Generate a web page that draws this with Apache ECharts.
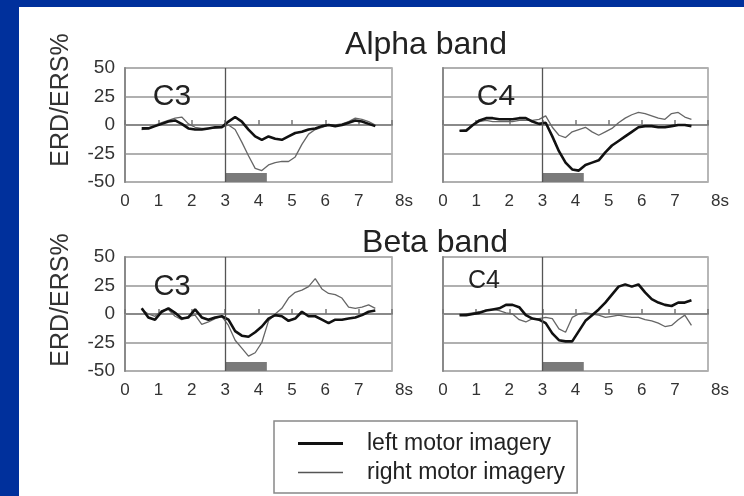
<!DOCTYPE html>
<html>
<head>
<meta charset="utf-8">
<script src="https://cdn.jsdelivr.net/npm/echarts@6/dist/echarts.min.js"></script>
<style>
html,body{margin:0;padding:0;background:#00309c;}
#chart{width:744px;height:496px;}
</style>
</head>
<body>
<div id="chart"></div>
<script>
// ---- data ----
const times = [0.5,0.7,0.9,1.1,1.3,1.5,1.7,1.9,2.1,2.3,2.5,2.7,2.9,3.1,3.3,3.5,3.7,3.9,4.1,4.3,4.5,4.7,4.9,5.1,5.3,5.5,5.7,5.9,6.1,6.3,6.5,6.7,6.9,7.1,7.3,7.5];

const alphaC3Left  = [-3,-3,-1,1,3,4,1,-3,-4,-4,-3,-2,-2,3,7,3,-4,-10,-13,-10,-12,-13,-10,-7,-6,-4,-3,-1,0,-1,0,2,4,3,1,-1];
const alphaC3Right = [-4,-3,0,2,4,6,7,1,-2,-3,-3,-3,-2,0,-4,-15,-27,-38,-40,-35,-33,-32,-32,-28,-17,-8,-4,-2,0,0,1,3,6,5,3,0];
const alphaC4Left  = [-5,-5,0,4,6,6,5,5,5,6,6,3,1,2,-10,-23,-33,-39,-40,-35,-33,-31,-24,-18,-14,-10,-6,-2,-1,-1,-2,-2,-1,0,0,-1];
const alphaC4Right = [-5,-4,0,3,4,3,3,3,3,4,4,4,5,8,-2,-9,-11,-6,-4,-2,-6,-9,-6,-3,2,6,9,11,10,8,6,5,10,11,7,5];
const betaC3Left   = [5,-3,-5,2,5,1,-4,-3,4,-3,-5,-3,-2,-5,-15,-19,-20,-16,-11,-4,-1,-2,-6,-4,2,-2,-2,-5,-8,-5,-5,-4,-3,-1,2,3];
const betaC3Right  = [4,0,-2,3,4,-2,-5,-2,-1,-9,-7,-4,-2,-10,-23,-30,-37,-34,-25,-6,0,5,14,19,21,24,31,22,18,17,14,6,5,6,8,5];
const betaC4Left   = [-1,-1,0,1,3,4,5,8,8,6,-1,-4,-5,-8,-17,-23,-24,-24,-15,-6,-1,4,10,17,24,26,24,26,19,13,10,8,7,10,10,12];
const betaC4Right  = [-1,0,1,2,3,4,3,1,0,-5,-7,-4,-4,-3,-4,-13,-16,-3,0,1,0,-1,-3,-2,-1,-2,-3,-3,-5,-6,-8,-11,-10,-5,-1,-10];

const xTicks = ['0','1','2','3','4','5','6','7','8s'];
const yTicks = ['-50','-25','0','25','50'];
const seriesNames = ['left motor imagery','right motor imagery'];
const panelNames = ['C3','C4','C3','C4'];
const bandNames = ['Alpha band','Beta band'];
const yTitle = 'ERD/ERS%';
const cueOnset = 3;
const cueInterval = [3, 4.25];
const cueTop = -42;

// ---- layout ----
const FONT = '"Liberation Sans", Arial, sans-serif';
const grids = [
  {left:125, top:68, width:267, height:114},
  {left:443, top:68, width:265, height:114},
  {left:125, top:257, width:267, height:114},
  {left:443, top:257, width:265, height:114}
];
const panels = [
  [alphaC3Left, alphaC3Right],
  [alphaC4Left, alphaC4Right],
  [betaC3Left, betaC3Right],
  [betaC4Left, betaC4Right]
];

function pairs(ys){ return times.map((t,i)=>[t, ys[i]]); }

const xAxes = grids.map((g,i)=>({
  gridIndex:i, type:'value', min:0, max:8, interval:1,
  axisLine:{show:true, lineStyle:{color:'#8a8a8a', width:2}},
  axisTick:{show:true, inside:true, length:5, lineStyle:{color:'#777', width:1.5}},
  splitLine:{show:false},
  axisLabel:{
    show:true, margin:11, color:'#333', fontSize:17, fontFamily:FONT,
    formatter:(v)=>{ const s = xTicks[Math.round(v)]; return v===8 ? '{e|'+s+'}' : s; },
    rich:{e:{fontSize:17, fontFamily:FONT, color:'#333', padding:[0,0,0,24]}}
  }
}));
const yAxes = grids.map((g,i)=>({
  gridIndex:i, type:'value', min:-50, max:50, interval:25,
  axisLine:{show:true, lineStyle:{color:'#8a8a8a', width:2}},
  axisTick:{show:false},
  splitLine:{show:true, lineStyle:{color:'#b0b0b0', width:2}},
  axisLabel:{
    show: i%2===0, margin:10, color:'#333', fontSize:19, fontFamily:FONT,
    formatter:(v)=> yTicks[Math.round((v+50)/25)]
  }
}));

const series = [];
panels.forEach((p,i)=>{
  series.push({
    type:'line', name:seriesNames[1], xAxisIndex:i, yAxisIndex:i,
    data:pairs(p[1]), symbol:'none', z:3,
    lineStyle:{color:'#666', width:1.3}, itemStyle:{color:'#666'},
    markLine:{silent:true, symbol:'none', label:{show:false},
      lineStyle:{color:'#555', width:1.3, type:'solid'},
      data:[{xAxis:cueOnset}]},
    markArea:{silent:true, itemStyle:{color:'#7a7a7a'},
      data:[[{xAxis:cueInterval[0], yAxis:-50},{xAxis:cueInterval[1], yAxis:cueTop}]]}
  });
  series.push({
    type:'line', name:seriesNames[0], xAxisIndex:i, yAxisIndex:i,
    data:pairs(p[0]), symbol:'none', z:4,
    lineStyle:{color:'#111', width:2.6}, itemStyle:{color:'#111'}
  });
});

const texts = [
  {x:426, y:45, text:bandNames[0], size:32},
  {x:435, y:243, text:bandNames[1], size:32},
  {x:172, y:97, text:panelNames[0], size:30},
  {x:496, y:97, text:panelNames[1], size:30},
  {x:172, y:287, text:panelNames[2], size:29},
  {x:484, y:281, text:panelNames[3], size:25}
];

const graphic = [
  {type:'rect', left:19, top:7, z:-100, shape:{width:725, height:489}, style:{fill:'#fff'}}
].concat(texts.map(t=>({
  type:'text', x:t.x, y:t.y, z:10,
  style:{text:t.text, fill:'#222', font:t.size+'px '+FONT, textAlign:'center', textVerticalAlign:'middle'}
}))).concat([100, 300].map(cy=>({
  type:'text', x:61, y:cy, rotation:Math.PI/2, z:10,
  style:{text:yTitle, fill:'#333', font:'25px '+FONT, textAlign:'center', textVerticalAlign:'middle'}
})));

const chart = echarts.init(document.getElementById('chart'), null, {renderer:'canvas'});
chart.setOption({
  backgroundColor:'#00309c',
  animation:false,
  grid: grids.map(g=>Object.assign({show:true, borderColor:'#a0a0a0', borderWidth:1.5, backgroundColor:'transparent', containLabel:false}, g)),
  xAxis:xAxes,
  yAxis:yAxes,
  series:series,
  legend:{
    show:true, orient:'vertical', left:274, top:421,
    data:[
      {name:seriesNames[0], icon:'path://M0,0H45V3H0Z', itemStyle:{color:'#111', borderWidth:0}, lineStyle:{width:0}},
      {name:seriesNames[1], icon:'path://M0,0H45V1.4H0Z', itemStyle:{color:'#555', borderWidth:0}, lineStyle:{width:0}}
    ],
    itemWidth:45, itemHeight:14, itemGap:6,
    padding:[11,12,9,24],
    borderColor:'#888', borderWidth:1.5, backgroundColor:'#fff',
    textStyle:{fontSize:23, fontFamily:FONT, color:'#222', lineHeight:23, padding:[0,0,0,19]}
  },
  graphic:graphic
});
</script>
</body>
</html>
